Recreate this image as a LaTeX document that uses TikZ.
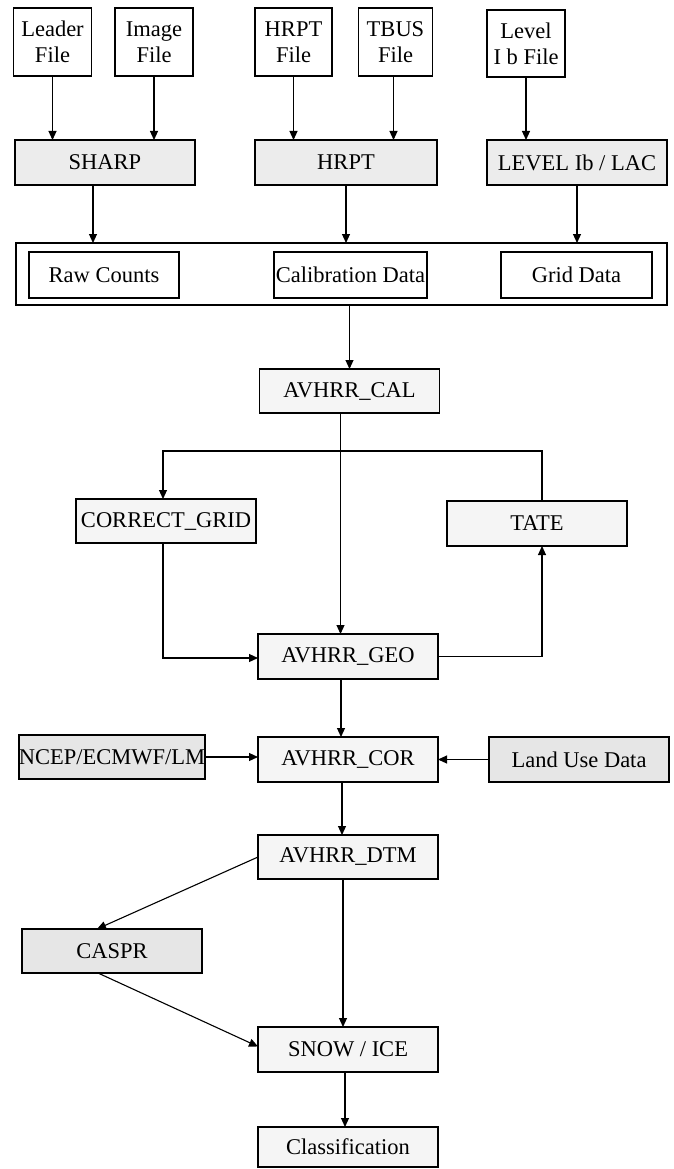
\documentclass[tikz,border=0pt]{standalone}
\usepackage{fontspec}
\setmainfont{Liberation Serif}
\usetikzlibrary{positioning, arrows, arrows.meta}
\definecolor{srcgray}{HTML}{E6E6E6}
\definecolor{readgray}{HTML}{ECECEC}
\definecolor{stepgray}{HTML}{F5F5F5}
\begin{document}
\begin{tikzpicture}[x=1pt, y=-1pt, line width=1.1pt, font=\fontsize{22.5}{26}\selectfont]
% Block styles
\tikzstyle{filebox}=[inner sep=0pt, outer sep=0pt, draw=black, line width=1.3pt, align=center, minimum width=78pt, minimum height=68pt]
\tikzstyle{readbox}=[inner sep=0pt, outer sep=0pt, draw=black, line width=1.3pt, fill=readgray, align=center, minimum width=180pt, minimum height=45pt]
\tikzstyle{stepbox}=[inner sep=0pt, outer sep=0pt, draw=black, line width=1.3pt, fill=stepgray, align=center, minimum width=180pt, minimum height=45pt]
\tikzstyle{srcbox}=[inner sep=0pt, outer sep=0pt, draw=black, line width=1.3pt, fill=srcgray, align=center, minimum width=180pt, minimum height=45pt]
\tikzstyle{databox}=[inner sep=0pt, outer sep=0pt, draw=black, line width=1.3pt, align=center, minimum width=151pt, minimum height=46pt]
\tikzstyle{arr}=[-{Triangle[length=9pt, width=8pt]}]
\useasboundingbox (0,0) rectangle (674,1169);
% Input files
\node[filebox] (leader) at (52.5,42) {Leader\\File};
\node[filebox] (image) at (154,42) {Image\\File};
\node[filebox, minimum width=77pt] (hrptf) at (293.5,42) {HRPT\\File};
\node[filebox, minimum width=74pt] (tbus) at (395.5,42) {TBUS\\File};
\node[filebox, minimum height=67pt] (levelf) at (526,43.5) {Level\\I b File};
% Readers
\node[readbox] (sharp) at (105,162.5) {SHARP};
\node[readbox, minimum width=182pt] (hrpt) at (346,162.5) {HRPT};
\node[readbox] (lac) at (577,162.5) {LEVEL Ib / LAC};
% Data block
\node[databox, minimum width=651pt, minimum height=62pt] (data) at (341.5,274) {};
\node[databox, minimum width=150pt] (raw) at (104,275) {Raw Counts};
\node[databox, minimum width=153pt] (calib) at (350.5,275) {Calibration Data};
\node[databox] (grid) at (576.5,275) {Grid Data};
% Processing chain
\node[stepbox, minimum height=44pt] (cal) at (349.5,391) {AVHRR\_CAL};
\node[stepbox, minimum height=44pt] (cgrid) at (166,521) {CORRECT\_GRID};
\node[stepbox] (tate) at (537,523.5) {TATE};
\node[stepbox] (geo) at (348,656.5) {AVHRR\_GEO};
\node[srcbox, minimum height=44pt] (ncep) at (112,757) {NCEP/ECMWF/LM};
\node[stepbox] (cor) at (348,759.5) {AVHRR\_COR};
\node[srcbox] (land) at (579,759.5) {Land Use Data};
\node[stepbox, minimum height=44pt] (dtm) at (348,857) {AVHRR\_DTM};
\node[srcbox, minimum height=44pt] (caspr) at (112,951) {CASPR};
\node[stepbox] (snow) at (348,1049.5) {SNOW / ICE};
\node[stepbox, minimum height=40pt] (classif) at (348,1147) {Classification};
% Arrows
\draw[arr] (leader) -- (leader |- sharp.north);
\draw[arr] (image) -- (image |- sharp.north);
\draw[arr] (hrptf) -- (hrptf |- hrpt.north);
\draw[arr] ([xshift=-2]tbus.south) -- ([xshift=-2]tbus.south |- hrpt.north);
\draw[arr] (levelf) -- (levelf |- lac.north);
\draw[arr] ([xshift=-12]sharp.south) -- ([xshift=-12]sharp.south |- data.north);
\draw[arr] (hrpt) -- (hrpt |- data.north);
\draw[arr] (lac) -- (lac |- data.north);
\draw[arr] (cal.north |- data.south) -- (cal);
\draw[arr] ([xshift=-9]cal.south) -- ([xshift=-9]cal.south |- geo.north);
\coordinate (br) at (340,451);
\draw[arr] ([xshift=5]tate.north) |- (br) -| ([xshift=-3]cgrid.north);
\draw[arr] ([xshift=-3]cgrid.south) |- ([yshift=-1.5]geo.west);
\draw[arr] (geo.east) -| ([xshift=5]tate.south);
\draw[arr] ([xshift=-7]geo.south) -- ([xshift=-7]geo.south |- cor.north);
\draw[arr] (ncep.east) -- (ncep.east -| cor.west);
\draw[arr] (land.west) -- (land.west -| cor.east);
\draw[arr] ([xshift=-6]cor.south) -- ([xshift=-6]cor.south |- dtm.north);
\draw[arr] (dtm.west) -- ([xshift=-15]caspr.north);
\draw[arr] ([xshift=-14]caspr.south) -- ([yshift=3]snow.west);
\draw[arr] ([xshift=-5]dtm.south) -- ([xshift=-5]dtm.south |- snow.north);
\draw[arr] ([xshift=-3]snow.south) -- ([xshift=-3]snow.south |- classif.north);
\end{tikzpicture}
\end{document}
